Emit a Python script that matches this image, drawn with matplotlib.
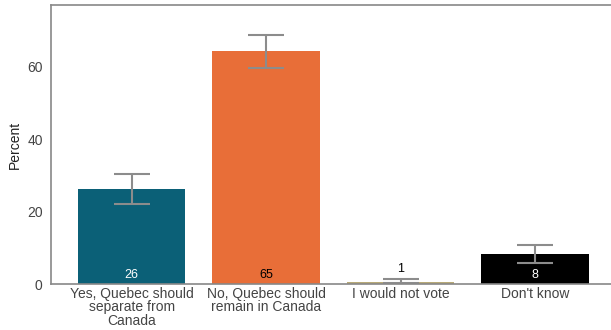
import matplotlib.pyplot as plt
import numpy as np

categories = ['Yes, Quebec should\nseparate from\nCanada', 'No, Quebec should\nremain in Canada',
              'I would not vote', "Don't know"]
values = [26.1, 64.3, 0.6, 8.3]
err_low = [22.0, 59.6, 0.2, 5.8]
err_high = [30.3, 68.6, 1.4, 10.7]
labels = ['26', '65', '1', '8']
colors = ['#0b6077', '#e86e38', '#b8aa78', '#000000']
label_colors = ['white', 'black', 'black', 'white']

plt.rcParams['font.family'] = ['Liberation Sans', 'DejaVu Sans']

fig = plt.figure(figsize=(6.11, 3.3), dpi=100)
ax = fig.add_axes([0.0835, 0.139, 0.924, 0.846])

x = np.arange(len(values))
yerr = [np.array(values) - np.array(err_low), np.array(err_high) - np.array(values)]
ax.bar(x, values, width=0.8, color=colors)
ax.errorbar(x, values, yerr=yerr, fmt='none', ecolor='#8c8c8c', elinewidth=1.5,
            capsize=13, capthick=1.5)

for i, v in enumerate(values):
    if v < 3:
        ax.text(x[i], err_high[i] + 1.2, labels[i], ha='center', va='bottom',
                fontsize=9, color=label_colors[i])
    else:
        ax.text(x[i], 1.0, labels[i], ha='center', va='bottom',
                fontsize=9, color=label_colors[i])

ax.set_xlim(-0.6, 3.6)
ax.set_ylim(0, 77)
ax.set_yticks([0, 20, 40, 60])
ax.set_xticks(x)
ax.set_xticklabels(categories, fontsize=10, color='#444444', linespacing=0.95)
ax.tick_params(axis='y', labelsize=10, labelcolor='#444444', length=0, pad=6)
ax.tick_params(axis='x', length=0, pad=2)
ax.set_ylabel('Percent', fontsize=10, color='#222222')
for s in ax.spines.values():
    s.set_color('#888888')
    s.set_linewidth(1.2)

plt.savefig('out.png', dpi=100)
